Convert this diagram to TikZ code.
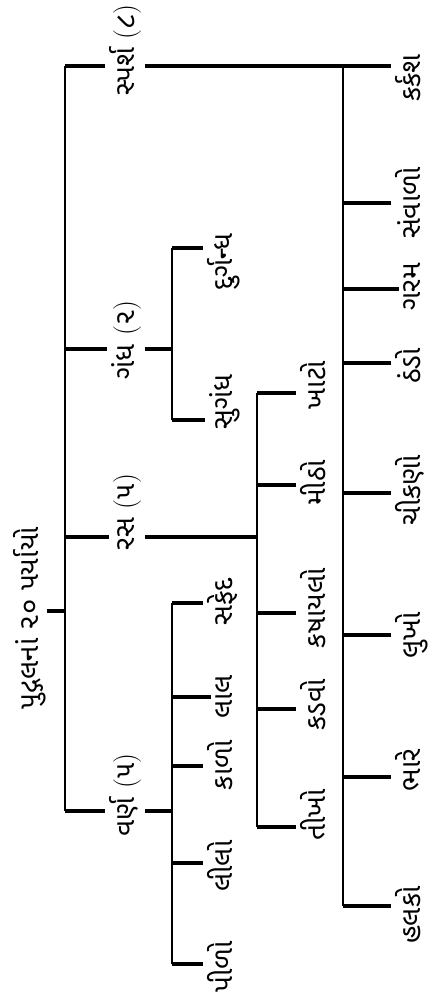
\documentclass[tikz,border=0pt]{standalone}
\usepackage{fontspec}
\newfontfamily\gujfont[Script=Gujarati]{Noto Sans Gujarati UI}
\usetikzlibrary{positioning}

\newcommand\paren[1]{{\rmfamily(}#1{\rmfamily)}}

\tikzset{
  lbl/.style={rotate=90, anchor=base, inner sep=1pt,
    font=\gujfont\fontsize{28}{32}\selectfont},
  bar/.style={line width=3.2pt},
  bus/.style={line width=2.6pt},
}

\begin{document}
\begin{tikzpicture}[x=1pt,y=-1pt]
  \useasboundingbox (0,0) rectangle (430,1001);
  % root
  \node[lbl] (root) at (38,618) {પુદ્ગલનાં ૨૦ પર્યાયો};
  \coordinate (rootj) at (65,611);
  \coordinate (top) at (65,66);
  \coordinate (bot) at (65,811);
  \draw[bar] (root.south |- rootj) -- (rootj);
  \draw[bus] (top) -- (bot);
  % first level
  \node[lbl] (sparsha) at (134,50) {સ્પર્શ \paren{૮}};
  \node[lbl] (gandha) at (134,340) {ગંધ \paren{૨}};
  \node[lbl] (rasa) at (134,512) {રસ \paren{૫}};
  \node[lbl] (varna) at (134,795) {વર્ણ \paren{૫}};
  \coordinate (gandhaj) at (65,349);
  \coordinate (rasaj) at (65,537);
  \draw[bar,shorten >=3pt] (top) -- (top -| sparsha.north);
  \draw[bar,shorten >=3pt] (gandhaj) -- (gandhaj -| gandha.north);
  \draw[bar,shorten >=3pt] (rasaj) -- (rasaj -| rasa.north);
  \draw[bar,shorten >=3pt] (bot) -- (bot -| varna.north);
  % sparsha
  \node[lbl] (karkash) at (420,78) {કર્કશ};
  \coordinate (spbus) at (343,66);
  \draw[bar,shorten <=3pt,shorten >=3pt] (sparsha.south |- top) -- (karkash.north |- top);
  \foreach \sy/\ly/\t [count=\i] in {203/203/સંવાળો, 289/287/ગરમ, 363/366/ઠંડો,
      493/490/ચીકણો, 635/635/લુખો, 777/770/ભારે, 906/915/હલકો}
  {
    \node[lbl] (sp\i) at (420,\ly) {\t};
    \coordinate (spj\i) at (343,\sy);
    \draw[bar,shorten >=3pt] (spj\i) -- (spj\i -| sp\i.north);
  }
  \draw[bus] (spbus) -- (spj7);
  % gandha
  \coordinate (gbus) at (172,349);
  \draw[bar,shorten <=3pt] (gandha.south |- gandhaj) -- (gbus);
  \foreach \sy/\ly/\t [count=\i] in {248/262/દુર્ગન્ધ, 420/402/સુગંધ}
  {
    \node[lbl] (ga\i) at (232,\ly) {\t};
    \coordinate (gaj\i) at (172,\sy);
    \draw[bar,shorten >=3pt] (gaj\i) -- (gaj\i -| ga\i.north);
  }
  \draw[bus] (gaj1) -- (gaj2);
  % rasa
  \coordinate (rbus) at (257,537);
  \draw[bar,shorten <=3pt] (rasa.south |- rasaj) -- (rbus);
  \foreach \sy/\ly/\t [count=\i] in {393/385/ખાટો, 485/483/મીઠો, 613/608/કષાયલો,
      709/705/કડવો, 827/815/તીખો}
  {
    \node[lbl] (ra\i) at (325,\ly) {\t};
    \coordinate (raj\i) at (257,\sy);
    \draw[bar,shorten >=3pt] (raj\i) -- (raj\i -| ra\i.north);
  }
  \draw[bus] (raj1) -- (raj5);
  % varna
  \coordinate (vbus) at (172,811);
  \draw[bar,shorten <=3pt] (varna.south |- bot) -- (vbus);
  \foreach \sy/\ly/\t [count=\i] in {603/602/સફેદ, 697/697/લાલ, 766/765/કાળો,
      863/866/લીલો, 964/967/પીળો}
  {
    \node[lbl] (va\i) at (232,\ly) {\t};
    \coordinate (vaj\i) at (172,\sy);
    \draw[bar,shorten >=3pt] (vaj\i) -- (vaj\i -| va\i.north);
  }
  \draw[bus] (vaj1) -- (vaj5);
\end{tikzpicture}
\end{document}
